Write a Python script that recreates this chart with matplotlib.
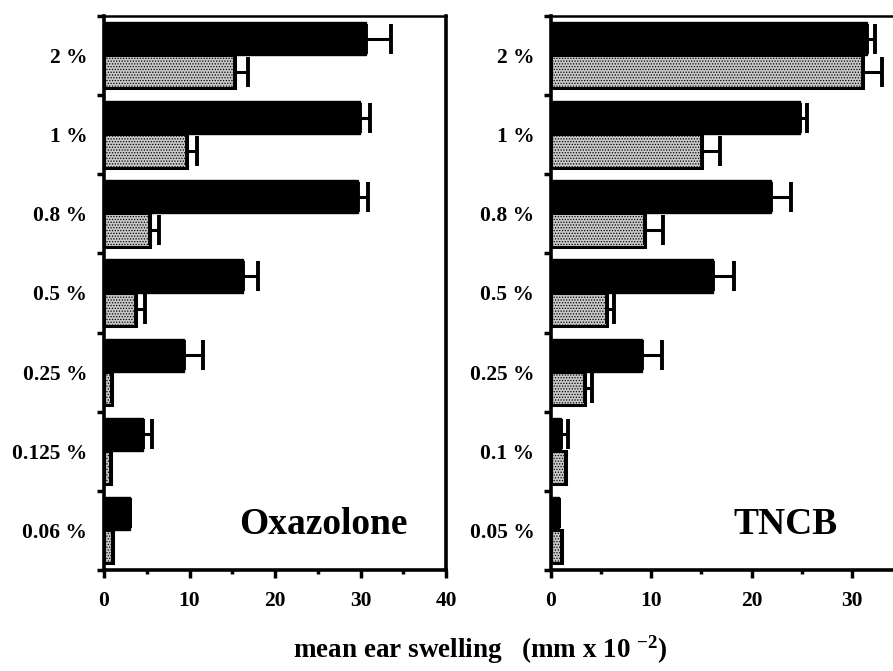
import numpy as np
import matplotlib
matplotlib.use("Agg")
import matplotlib.pyplot as plt
from matplotlib.ticker import MultipleLocator, FixedLocator

plt.rcParams["font.family"] = ["Liberation Serif", "DejaVu Serif"]
plt.rcParams["font.weight"] = "bold"
plt.rcParams["mathtext.fontset"] = "custom"
plt.rcParams["mathtext.rm"] = "Liberation Serif:bold"
plt.rcParams["mathtext.default"] = "rm"
plt.rcParams["hatch.linewidth"] = 0.6

# Oxazolone (top to bottom in the picture)
oxa_doses = ["2 %", "1 %", "0.8 %", "0.5 %", "0.25 %", "0.125 %", "0.06 %"]
oxa_black = [30.6, 29.9, 29.7, 16.3, 9.3, 4.6, 3.0]
oxa_black_err = [3.0, 1.2, 1.2, 1.7, 2.3, 1.0, 0.0]
oxa_gray = [15.3, 9.7, 5.4, 3.8, 0.9, 0.8, 1.0]
oxa_gray_err = [1.6, 1.2, 1.0, 1.0, 0.0, 0.0, 0.0]

# TNCB
tncb_doses = ["2 %", "1 %", "0.8 %", "0.5 %", "0.25 %", "0.1 %", "0.05 %"]
tncb_black = [31.5, 24.8, 21.9, 16.2, 9.1, 1.0, 0.8]
tncb_black_err = [0.8, 0.7, 2.0, 2.1, 2.0, 0.7, 0.0]
tncb_gray = [31.1, 15.1, 9.4, 5.6, 3.4, 1.5, 1.1]
tncb_gray_err = [1.9, 1.8, 1.8, 0.7, 0.7, 0.0, 0.0]

W, H = 893, 671
fig = plt.figure(figsize=(W / 100, H / 100), dpi=100)

ax_l = fig.add_axes([104 / W, (H - 570) / H, 342 / W, 554 / H])
ax_r = fig.add_axes([551 / W, (H - 570) / H, 401 / W, 554 / H])


def panel(ax, doses, blk, blk_err, gry, gry_err, name, name_x, xlabels):
    n = len(doses)
    y = np.arange(n)[::-1]          # first dose at the top
    h = 0.42
    ax.barh(y + 0.215, blk, height=h, color="black", edgecolor="black", lw=1)
    ax.barh(y - 0.205, gry, height=h, color="#c8c8c8", edgecolor="black",
            lw=2.2, hatch="......")
    ax.errorbar(blk, y + 0.215, xerr=[np.zeros(n), blk_err], fmt="none",
                ecolor="black", elinewidth=2.2, capsize=10.5, capthick=2.8)
    ax.errorbar(gry, y - 0.205, xerr=[np.zeros(n), gry_err], fmt="none",
                ecolor="black", elinewidth=2.2, capsize=10.5, capthick=2.8)

    ax.set_xlim(0, 40)
    ax.set_ylim(-0.5, n - 0.5)
    ax.set_yticks(y)
    ax.set_yticklabels(doses, fontsize=15.5, fontweight="bold")
    ax.yaxis.set_minor_locator(FixedLocator(np.arange(-0.5, n, 1.0)))
    ax.tick_params(axis="y", which="major", length=0, pad=12)
    ax.tick_params(axis="y", which="minor", length=5, width=2.5, direction="out")
    ax.xaxis.set_major_locator(FixedLocator(xlabels))
    ax.xaxis.set_minor_locator(MultipleLocator(5))
    ax.tick_params(axis="x", which="major", length=6, width=2.5, labelsize=15.5, pad=9)
    ax.tick_params(axis="x", which="minor", length=3, width=2.5)
    for lab in ax.get_xticklabels():
        lab.set_fontweight("bold")

    ax.spines["left"].set_linewidth(2.6)
    ax.spines["bottom"].set_linewidth(2.6)
    ax.spines["top"].set_linewidth(1.8)
    ax.spines["right"].set_linewidth(2.6)

    ax.text(name_x, 0.08, name, fontsize=27, fontweight="bold", ha="center",
            va="center")


panel(ax_l, oxa_doses, oxa_black, oxa_black_err, oxa_gray, oxa_gray_err,
      "Oxazolone", 25.7, [0, 10, 20, 30, 40])
panel(ax_r, tncb_doses, tncb_black, tncb_black_err, tncb_gray, tncb_gray_err,
      "TNCB", 23.4, [0, 10, 20, 30])

fig.text(480 / W, 1 - 650 / H, "mean ear swelling   (mm x 10 $^{-2}$)",
         fontsize=19.5, fontweight="bold", ha="center", va="center")

fig.savefig("out.png", dpi=100)
